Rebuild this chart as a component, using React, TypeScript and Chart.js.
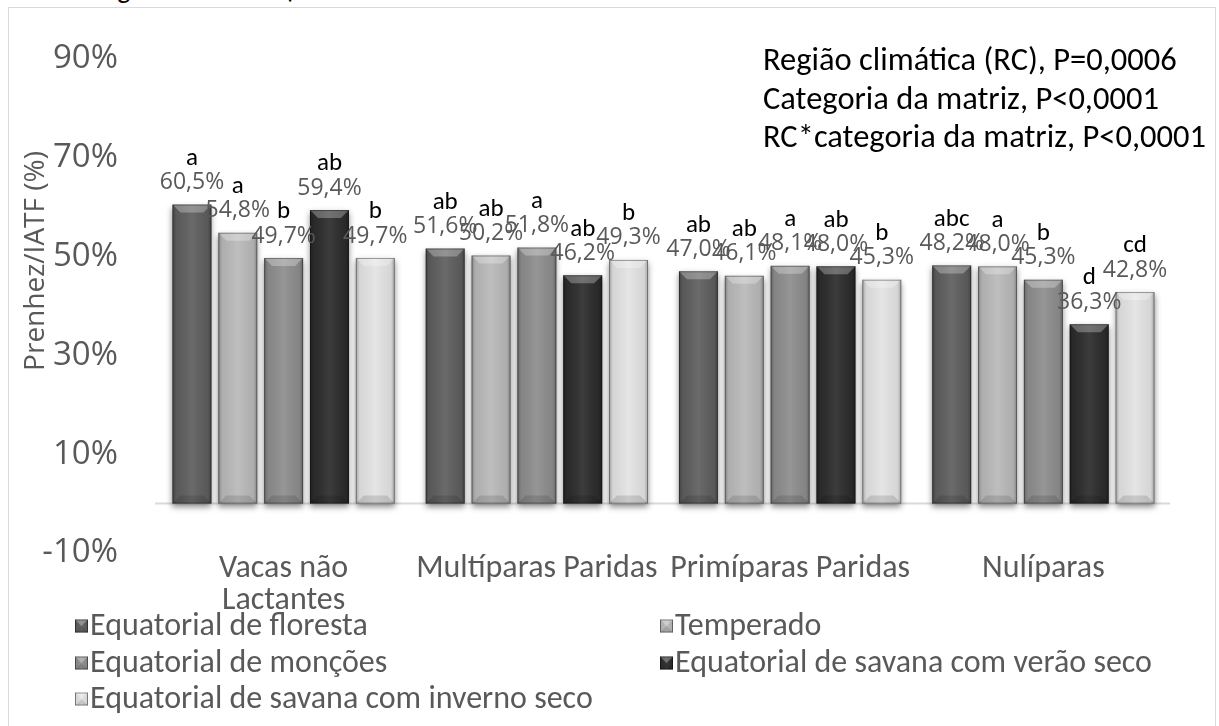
import React, { useEffect, useRef } from "react";
import { Chart, registerables } from "chart.js";

Chart.register(...registerables);

// Categories of dam and climate-region series (pregnancy per TAI, %)
const categories: (string | string[])[] = [
  ["Vacas não", "Lactantes"],
  "Multíparas Paridas",
  "Primíparas Paridas",
  "Nulíparas",
];

const seriesNames = [
  "Equatorial de floresta",
  "Temperado",
  "Equatorial de monções",
  "Equatorial de savana com verão seco",
  "Equatorial de savana com inverno seco",
];

const equatorialFloresta = [60.5, 51.6, 47.0, 48.2];
const temperado = [54.8, 50.2, 46.1, 48.0];
const equatorialMoncoes = [49.7, 51.8, 48.1, 45.3];
const savanaVeraoSeco = [59.4, 46.2, 48.0, 36.3];
const savanaInvernoSeco = [49.7, 49.3, 45.3, 42.8];

// Significance letters shown above each bar
const lettersFloresta = ["a", "ab", "ab", "abc"];
const lettersTemperado = ["a", "ab", "ab", "a"];
const lettersMoncoes = ["b", "a", "a", "b"];
const lettersVeraoSeco = ["ab", "ab", "ab", "d"];
const lettersInvernoSeco = ["b", "b", "b", "cd"];

const yMin = -10;
const yMax = 90;
const yStep = 20;

const statsLines = [
  "Região climática (RC), P=0,0006",
  "Categoria da matriz, P<0,0001",
  "RC*categoria da matriz, P<0,0001",
];

const yTitle = "Prenhez/IATF (%)";
const captionTail = "cada categoria da matriz)";

const barColors = ["#5e5e5e", "#b9b9b9", "#8d8d8d", "#2c2c2c", "#e3e3e3"];

const CAL = "Carlito, Lato, 'Open Sans', sans-serif";
const SEG = "'Open Sans', 'Noto Sans', sans-serif";
const GREY = "#595959";

const fmt = (v: number) => v.toFixed(1).replace(".", ",") + "%";

function shadeRect(ctx: CanvasRenderingContext2D, left: number, top: number, w: number, h: number) {
  const g = ctx.createLinearGradient(left, 0, left + w, 0);
  g.addColorStop(0, "rgba(0,0,0,0.28)");
  g.addColorStop(0.1, "rgba(0,0,0,0.06)");
  g.addColorStop(0.5, "rgba(255,255,255,0.08)");
  g.addColorStop(0.9, "rgba(0,0,0,0.06)");
  g.addColorStop(1, "rgba(0,0,0,0.28)");
  ctx.fillStyle = g;
  ctx.fillRect(left, top, w, h);
  const bev = Math.min(8, h / 2);
  // top bevel (lighter)
  ctx.fillStyle = "rgba(255,255,255,0.28)";
  ctx.beginPath();
  ctx.moveTo(left, top);
  ctx.lineTo(left + w, top);
  ctx.lineTo(left + w - bev, top + bev);
  ctx.lineTo(left + bev, top + bev);
  ctx.closePath();
  ctx.fill();
  // bottom bevel (darker)
  ctx.fillStyle = "rgba(0,0,0,0.12)";
  ctx.beginPath();
  ctx.moveTo(left, top + h);
  ctx.lineTo(left + w, top + h);
  ctx.lineTo(left + w - bev, top + h - bev);
  ctx.lineTo(left + bev, top + h - bev);
  ctx.closePath();
  ctx.fill();
  ctx.strokeStyle = "rgba(0,0,0,0.35)";
  ctx.lineWidth = 1;
  ctx.strokeRect(left + 0.5, top + 0.5, w - 1, h - 1);
}

const decorPlugin = {
  id: "decor",
  beforeDatasetsDraw(chart: any) {
    const { ctx, chartArea, scales } = chart;
    const y0 = scales.y.getPixelForValue(0);
    ctx.save();
    ctx.strokeStyle = "#d9d9d9";
    ctx.lineWidth = 2;
    ctx.beginPath();
    ctx.moveTo(chartArea.left - 2, y0);
    ctx.lineTo(chartArea.right, y0);
    ctx.stroke();
    ctx.restore();
  },
  beforeDatasetDraw(chart: any) {
    const ctx = chart.ctx;
    ctx.save();
    ctx.shadowColor = "rgba(0,0,0,0.45)";
    ctx.shadowBlur = 6;
    ctx.shadowOffsetY = 3;
  },
  afterDatasetDraw(chart: any) {
    chart.ctx.restore();
  },
  afterDatasetsDraw(chart: any) {
    const { ctx } = chart;
    chart.data.datasets.forEach((ds: any, di: number) => {
      const meta = chart.getDatasetMeta(di);
      meta.data.forEach((bar: any) => {
        const { x, y, base, width } = bar.getProps(["x", "y", "base", "width"], true);
        const left = x - width / 2;
        const top = Math.min(y, base);
        const h = Math.abs(base - y);
        ctx.save();
        shadeRect(ctx, left, top, width, h);
        ctx.restore();
      });
    });
    // value and letter labels
    chart.data.datasets.forEach((ds: any, di: number) => {
      const meta = chart.getDatasetMeta(di);
      meta.data.forEach((bar: any, i: number) => {
        const { x, y } = bar.getProps(["x", "y"], true);
        ctx.save();
        ctx.textAlign = "center";
        ctx.textBaseline = "middle";
        ctx.fillStyle = GREY;
        ctx.font = `23px ${SEG}`;
        ctx.fillText(fmt(ds.data[i]), x, y - 22);
        ctx.fillStyle = "#000";
        ctx.font = `25px ${CAL}`;
        ctx.fillText(ds.letters[i], x, y - 46);
        ctx.restore();
      });
    });
  },
  afterDraw(chart: any) {
    const { ctx } = chart;
    ctx.save();
    // statistics block
    ctx.fillStyle = "#000";
    ctx.font = `32.5px ${CAL}`;
    ctx.textAlign = "left";
    ctx.textBaseline = "middle";
    statsLines.forEach((t, i) => ctx.fillText(t, 763, 62 + i * 38.5));

    // y axis title
    ctx.save();
    ctx.translate(36, 261);
    ctx.rotate(-Math.PI / 2);
    ctx.fillStyle = GREY;
    ctx.font = `28px ${SEG}`;
    ctx.textAlign = "center";
    ctx.textBaseline = "middle";
    ctx.fillText(yTitle, 0, 0);
    ctx.restore();

    // legend, two columns
    const cols = [75, 660];
    const rows = [626, 663, 699];
    chart.data.datasets.forEach((ds: any, di: number) => {
      const cx = cols[di % 2];
      const cy = rows[Math.floor(di / 2)];
      const s = 13;
      ctx.fillStyle = ds.backgroundColor;
      ctx.fillRect(cx, cy - s / 2, s, s);
      shadeRect(ctx, cx, cy - s / 2, s, s);
      ctx.fillStyle = GREY;
      ctx.font = `32px ${CAL}`;
      ctx.textAlign = "left";
      ctx.textBaseline = "middle";
      ctx.fillText(ds.label, cx + 15, cy + 1);
    });
    ctx.restore();
  },
};

export default function App() {
  const ref = useRef<HTMLCanvasElement>(null);

  useEffect(() => {
    if (!ref.current) return;
    const seriesValues = [equatorialFloresta, temperado, equatorialMoncoes, savanaVeraoSeco, savanaInvernoSeco];
    const seriesLetters = [lettersFloresta, lettersTemperado, lettersMoncoes, lettersVeraoSeco, lettersInvernoSeco];
    const chart = new Chart(ref.current, {
      type: "bar",
      data: {
        labels: categories,
        datasets: seriesNames.map((name, i) => ({
          label: name,
          data: seriesValues[i],
          letters: seriesLetters[i],
          backgroundColor: barColors[i],
          borderWidth: 0,
          categoryPercentage: 0.905,
          barPercentage: 0.85,
        })) as any,
      },
      options: {
        responsive: false,
        animation: false,
        devicePixelRatio: 1,
        layout: { padding: { top: 52, right: 49, left: 0, bottom: 0 } },
        plugins: {
          legend: { display: false },
          tooltip: { enabled: false },
        },
        scales: {
          x: {
            grid: { display: false, drawTicks: false },
            border: { display: false },
            ticks: {
              color: GREY,
              font: { family: CAL, size: 32, lineHeight: "32px" },
              padding: 0,
              maxRotation: 0,
              autoSkip: false,
            },
            afterFit: (s: any) => {
              s.height = 173;
            },
          },
          y: {
            min: yMin,
            max: yMax,
            grid: { display: false, drawTicks: false },
            border: { display: false },
            ticks: {
              stepSize: yStep,
              color: GREY,
              font: { family: SEG, size: 33 },
              padding: 39,
              callback: (v: any) => `${v}%`,
            },
            afterFit: (s: any) => {
              s.width = 157;
            },
          },
        },
      },
      plugins: [decorPlugin],
    });
    return () => chart.destroy();
  }, []);

  return (
    <div style={{ position: "fixed", left: 0, top: 0, width: 1219, height: 726, overflow: "hidden", background: "#fff" }}>
      <div
        style={{
          position: "absolute",
          left: 10,
          top: -29,
          fontFamily: CAL,
          fontSize: 28,
          color: "#000",
          whiteSpace: "nowrap",
        }}
      >
        {captionTail}
      </div>
      <div
        style={{
          position: "absolute",
          left: 8,
          top: 7,
          width: 1208,
          height: 740,
          border: "1px solid #d9d9d9",
          boxSizing: "border-box",
          background: "#fff",
        }}
      />
      <canvas ref={ref} width={1219} height={726} style={{ position: "absolute", left: 0, top: 0 }} />
    </div>
  );
}
